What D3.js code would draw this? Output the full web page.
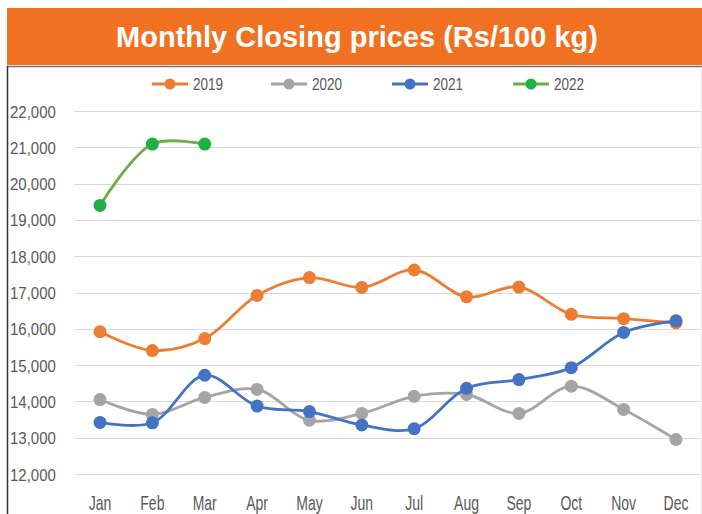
<!DOCTYPE html>
<html lang="en">
<head>
  <meta charset="utf-8">
  <title>Monthly Closing prices</title>
  <script src="https://d3js.org/d3.v7.min.js"></script>
  <style>
    body { margin: 0; background: #fff; }
    .rotulo { font-family: "Liberation Sans", Arial, sans-serif; fill: #595959; }
  </style>
</head>
<body>
  <div id="chart"></div>

  <script type="text/javascript">
    "use strict"

    // dados
    var meses = ["Jan", "Feb", "Mar", "Apr", "May", "Jun", "Jul", "Aug", "Sep", "Oct", "Nov", "Dec"];
    var anos = ["2019", "2020", "2021", "2022"];
    var v2019 = [15920, 15400, 15730, 16920, 17410, 17140, 17620, 16880, 17150, 16400, 16280, 16160];
    var v2020 = [14050, 13640, 14110, 14330, 13480, 13670, 14140, 14190, 13670, 14420, 13780, 12950];
    var v2021 = [13420, 13410, 14720, 13870, 13720, 13350, 13250, 14360, 14600, 14930, 15900, 16220];
    var v2022 = [19400, 21090, 21090];
    var yTicks = [12000, 13000, 14000, 15000, 16000, 17000, 18000, 19000, 20000, 21000, 22000];

    var series = [
      { nome: anos[0], valores: v2019, cor: "#ED7D31", marca: "#ED7D31" },
      { nome: anos[1], valores: v2020, cor: "#A5A5A5", marca: "#A5A5A5" },
      { nome: anos[2], valores: v2021, cor: "#4472C4", marca: "#4472C4" },
      { nome: anos[3], valores: v2022, cor: "#6CAE45", marca: "#1DB045" }
    ];

    var largura = 702, altura = 514;

    var svg = d3.select("#chart").append("svg")
      .attr("width", largura)
      .attr("height", altura);

    // faixa do titulo
    svg.append("rect")
      .attr("x", 7).attr("y", 8)
      .attr("width", largura - 7).attr("height", 57)
      .attr("fill", "#F07122");
    svg.append("text")
      .attr("x", 357).attr("y", 47)
      .attr("text-anchor", "middle")
      .style("font", "bold 29px 'Liberation Sans', Arial, sans-serif")
      .attr("fill", "#fff")
      .text("Monthly Closing prices (Rs/100 kg)");

    // moldura
    svg.append("line")
      .attr("x1", 7).attr("x2", largura)
      .attr("y1", 66.5).attr("y2", 66.5)
      .attr("stroke", "#6f6f6f").attr("stroke-width", 1.5);
    svg.append("line")
      .attr("x1", 7.5).attr("x2", 7.5)
      .attr("y1", 66).attr("y2", altura)
      .attr("stroke", "#333").attr("stroke-width", 1.5);
    svg.append("line")
      .attr("x1", 701.5).attr("x2", 701.5)
      .attr("y1", 67).attr("y2", altura)
      .attr("stroke", "#e6e6e6").attr("stroke-width", 1);

    var x = d3.scalePoint().domain(meses).range([100, 676]);
    var y = d3.scaleLinear().domain([12000, 22000]).range([474, 111]);

    // grade
    svg.append("g").selectAll("line")
      .data(yTicks)
      .enter().append("line")
        .attr("x1", 75).attr("x2", 700)
        .attr("y1", d => Math.round(y(d)) + 0.5)
        .attr("y2", d => Math.round(y(d)) + 0.5)
        .attr("stroke", "#d9d9d9").attr("stroke-width", 1);

    // eixo y
    svg.append("g").selectAll("text")
      .data(yTicks)
      .enter().append("text")
        .attr("class", "rotulo")
        .attr("transform", d => "translate(10," + (y(d) + 6.5) + ") scale(1,1.15)")
        .style("font-size", "15px")
        .text(d3.format(","));

    // eixo x
    svg.append("g").selectAll("text")
      .data(meses)
      .enter().append("text")
        .attr("class", "rotulo")
        .attr("text-anchor", "middle")
        .attr("transform", d => "translate(" + x(d) + ",510) scale(1,1.45)")
        .style("font-size", "14px")
        .text(d => d);

    var linha = d3.line()
      .x((d, i) => x(meses[i]))
      .y(d => y(d))
      .curve(d3.curveCatmullRom.alpha(0.5));

    series.forEach(function(s) {
      var g = svg.append("g");
      g.append("path")
        .attr("d", linha(s.valores))
        .attr("fill", "none")
        .attr("stroke", s.cor)
        .attr("stroke-width", 2.8);
      g.selectAll("circle")
        .data(s.valores)
        .enter().append("circle")
          .attr("cx", (d, i) => x(meses[i]))
          .attr("cy", d => y(d))
          .attr("r", 6.5)
          .attr("fill", s.marca);
    });

    // legenda
    var legX = [152, 271, 392, 513];
    var leg = svg.append("g").selectAll("g")
      .data(series)
      .enter().append("g")
        .attr("transform", (d, i) => "translate(" + legX[i] + ",84)");
    leg.append("line")
      .attr("x1", 0).attr("x2", 36)
      .attr("stroke", d => d.cor).attr("stroke-width", 2.8);
    leg.append("circle")
      .attr("cx", 18).attr("r", 5.5)
      .attr("fill", d => d.marca);
    leg.append("text")
      .attr("class", "rotulo")
      .attr("transform", "translate(41,6) scale(1,1.25)")
      .style("font-size", "13.5px")
      .text(d => d.nome);
  </script>
</body>
</html>
